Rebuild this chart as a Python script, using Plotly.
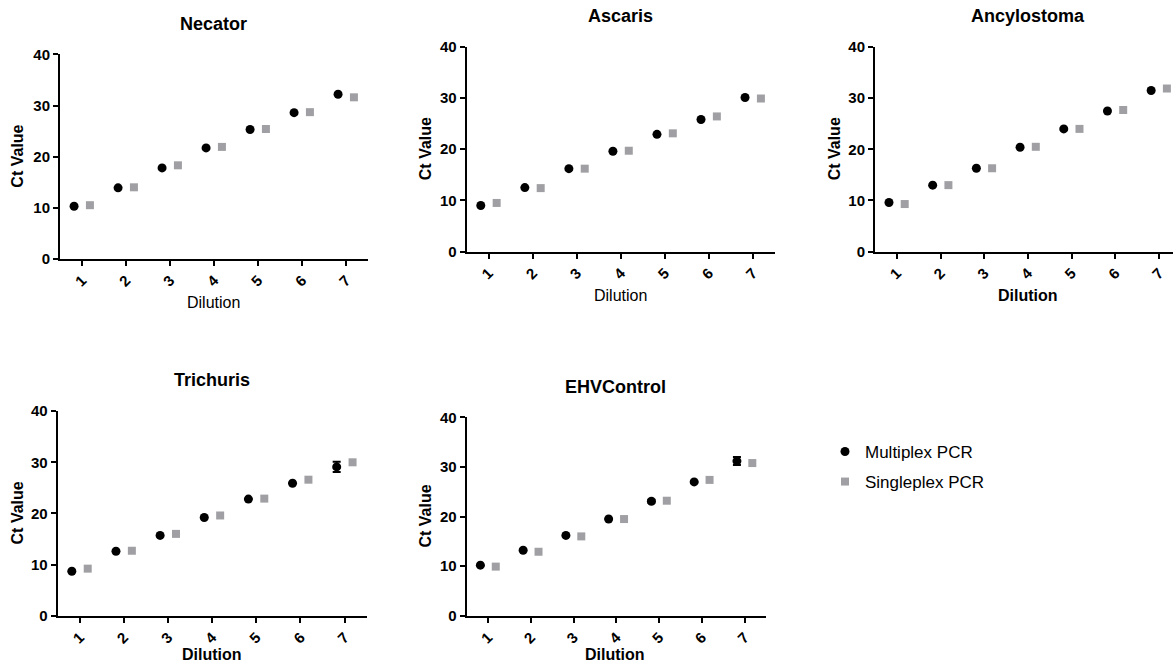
import plotly.graph_objects as go

W, H = 1173, 668

dilutions = [1, 2, 3, 4, 5, 6, 7]
tick_labels = ["1", "2", "3", "4", "5", "6", "7"]
y_ticks = [0, 10, 20, 30, 40]

panel_titles = ["Necator", "Ascaris", "Ancylostoma", "Trichuris", "EHVControl"]

necator_multi = [10.3, 13.9, 17.8, 21.7, 25.3, 28.6, 32.2]
necator_single = [10.5, 14.0, 18.3, 21.9, 25.4, 28.7, 31.6]

ascaris_multi = [9.0, 12.5, 16.2, 19.6, 22.9, 25.8, 30.1]
ascaris_single = [9.5, 12.4, 16.2, 19.7, 23.1, 26.4, 29.9]

ancylostoma_multi = [9.6, 13.0, 16.3, 20.4, 24.0, 27.5, 31.5]
ancylostoma_single = [9.3, 13.0, 16.3, 20.5, 24.0, 27.7, 31.9]

trichuris_multi = [8.7, 12.6, 15.7, 19.2, 22.8, 25.9, 29.1]
trichuris_multi_err = [0, 0, 0, 0, 0, 0, 1.0]
trichuris_single = [9.2, 12.7, 16.0, 19.6, 22.9, 26.6, 30.0]

ehv_multi = [10.2, 13.2, 16.2, 19.5, 23.1, 27.0, 31.2]
ehv_multi_err = [0, 0, 0, 0, 0.3, 0, 0.8]
ehv_single = [9.9, 12.9, 16.0, 19.5, 23.2, 27.4, 30.8]

multi_series = [necator_multi, ascaris_multi, ancylostoma_multi, trichuris_multi, ehv_multi]
multi_errors = [None, None, None, trichuris_multi_err, ehv_multi_err]
single_series = [necator_single, ascaris_single, ancylostoma_single, trichuris_single, ehv_single]

series_names = ["Multiplex PCR", "Singleplex PCR"]

# target pixel geometry (left, right, top, bottom) of each plot area, as seen in the picture
boxes = [
    (60, 368, 53.3, 258.3),
    (466.7, 775, 45.7, 251),
    (875, 1173, 46, 251),
    (57.7, 366.7, 411, 616),
    (466.7, 766, 417.3, 616),
]
x_ranges = [[0.5, 7.5], [0.5, 7.5], [0.5, 7.32], [0.5, 7.5], [0.5, 7.5]]
title_pos = [(213, 23), (620, 15), (1028, 15), (212, 380), (615, 387)]
ylab_x = [18, 425, 834, 17, 426]
xlab_pos = [(213, 302), (620, 295), (1028, 295), (212, 660), (615, 658)]
xlab_bold = [False, False, True, True, True]

# vertical calibration of the page capture (measured from earlier renders)
CAL_A, CAL_B = 0.977, 7.8


def py(y_px, cap=None):
    y = (y_px - CAL_B) / CAL_A
    if cap is not None:
        y = min(y, cap)
    return 1 - y / H


def px(x_px):
    return min(x_px / W, 1.0)


FONT = "Arial, Liberation Sans, sans-serif"
BLACK = "#000000"
GRAY = "#A0A0A4"
OFF = 0.18

fig = go.Figure()

for i in range(5):
    sfx = "" if i == 0 else str(i + 1)
    xa, ya = "x" + sfx, "y" + sfx
    err = multi_errors[i]
    fig.add_trace(go.Scatter(
        x=[d - OFF for d in dilutions], y=multi_series[i], mode="markers",
        name=series_names[0], legendgroup="m", showlegend=(i == 0),
        marker=dict(symbol="circle", size=9, color=BLACK),
        error_y=(dict(type="data", array=err, visible=True, color=BLACK,
                      thickness=2, width=4) if err else None),
        cliponaxis=False,
        xaxis=xa, yaxis=ya))
    fig.add_trace(go.Scatter(
        x=[d + OFF for d in dilutions], y=single_series[i], mode="markers",
        name=series_names[1], legendgroup="s", showlegend=(i == 0),
        marker=dict(symbol="square", size=8, color=GRAY),
        cliponaxis=False,
        xaxis=xa, yaxis=ya))

    l, r, t, b = boxes[i]
    axis_common = dict(showline=True, linecolor=BLACK, linewidth=2,
                       ticks="outside", ticklen=5, tickwidth=2, tickcolor=BLACK,
                       showgrid=False, zeroline=False,
                       tickfont=dict(family=FONT, size=15, color=BLACK, weight="bold"))
    fig.layout["xaxis" + sfx] = dict(
        domain=[px(l), px(r)], anchor=ya, range=x_ranges[i],
        tickvals=dilutions, ticktext=tick_labels, tickangle=-45, **axis_common)
    fig.layout["yaxis" + sfx] = dict(
        domain=[py(b), py(t)], anchor=xa, range=[0, 40],
        tickvals=y_ticks, **axis_common)

    tx, ty = title_pos[i]
    fig.add_annotation(text="<b>" + panel_titles[i] + "</b>", x=px(tx), y=py(ty),
                       xref="paper", yref="paper", showarrow=False,
                       font=dict(family=FONT, size=18, color=BLACK),
                       xanchor="center", yanchor="middle")
    fig.add_annotation(text="<b>Ct Value</b>", x=px(ylab_x[i]), y=py((t + b) / 2),
                       xref="paper", yref="paper", showarrow=False, textangle=-90,
                       font=dict(family=FONT, size=16, color=BLACK),
                       xanchor="center", yanchor="middle")
    lx, ly = xlab_pos[i]
    txt = "<b>Dilution</b>" if xlab_bold[i] else "Dilution"
    fig.add_annotation(text=txt, x=px(lx), y=py(ly, cap=H - 6),
                       xref="paper", yref="paper", showarrow=False,
                       font=dict(family=FONT, size=16, color=BLACK),
                       xanchor="center", yanchor="middle")

fig.update_layout(
    width=W, height=H,
    margin=dict(l=0, r=0, t=0, b=0),
    paper_bgcolor="white", plot_bgcolor="white",
    showlegend=True,
    legend=dict(x=825 / W, y=1 - 436 / H, xanchor="left", yanchor="top",
                font=dict(family=FONT, size=17, color=BLACK),
                bgcolor="rgba(0,0,0,0)", tracegroupgap=5, itemwidth=30),
)

post = (
    "document.documentElement.style.margin='0';"
    "document.documentElement.style.padding='0';"
    "document.documentElement.style.overflow='hidden';"
    "document.body.style.margin='0';"
    "document.body.style.padding='0';"
    "document.body.style.overflow='hidden';"
)

fig.write_html("out.html", config={"displayModeBar": False}, post_script=post)
